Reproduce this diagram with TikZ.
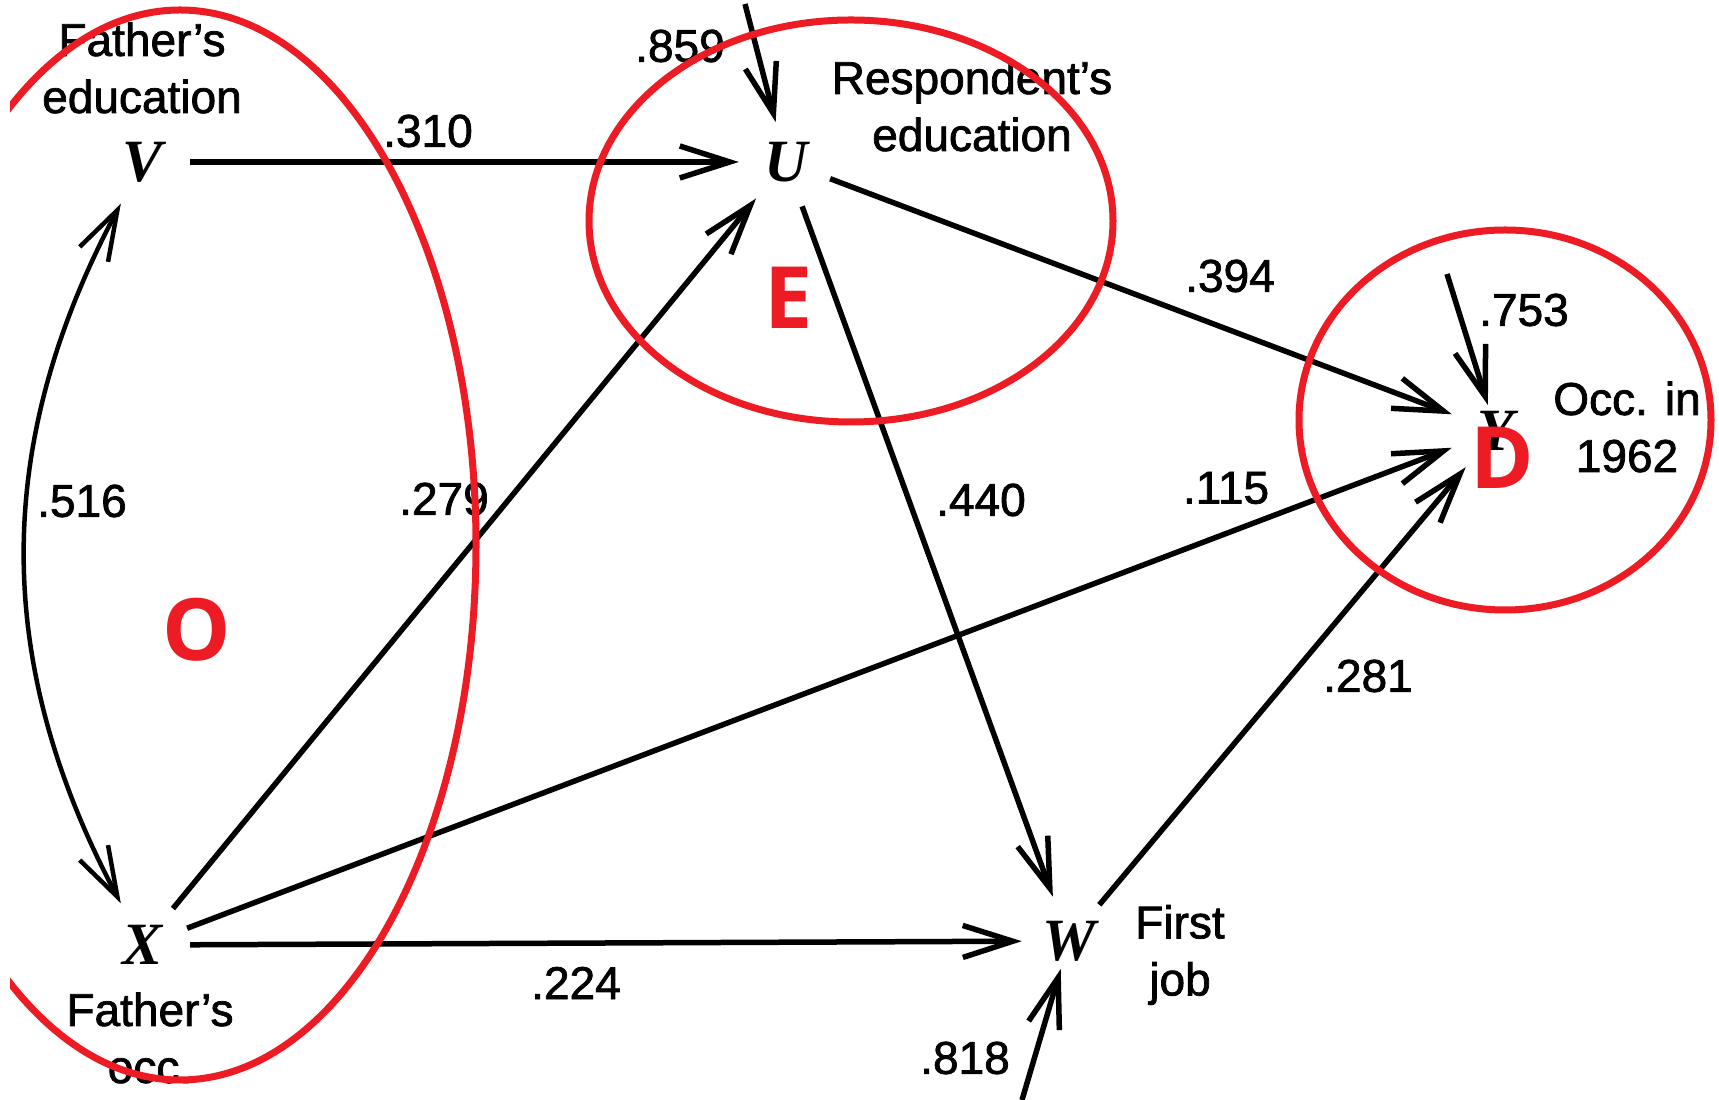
\documentclass[tikz,border=0pt]{standalone}
\usepackage{fontspec}
\setmainfont{Liberation Sans}
\newfontfamily\labfont{Liberation Sans}[FakeBold=1.6]
\newfontfamily\varfont{Liberation Serif}
\newfontfamily\redfont{Open Sans}
\usetikzlibrary{arrows.meta}
\definecolor{tred}{HTML}{ED1C24}
\begin{document}
\begin{tikzpicture}[x=1pt,y=1pt,
  lab/.style={font=\labfont\fontsize{46}{57}\selectfont, align=center, inner sep=0pt},
  var/.style={circle, minimum size=94pt, inner sep=0pt, font=\varfont\bfseries\itshape\fontsize{60}{60}\selectfont},
  barb/.tip={Straight Barb[length=50pt,width=32pt]},
  arr/.style={line width=5.5pt, -barb},
  redring/.style={draw=tred, line width=7pt},
  redlet/.style={text=tred, font=\redfont\bfseries\fontsize{86}{86}\selectfont, inner sep=0pt}]
\fill[white] (0,0) rectangle (1719,1100);
\useasboundingbox (0,0) rectangle (1719,1100);

% variables
\node[var] (V) at (143,938) {V};
\node[var] (U) at (786,938) {U};
\node[var] (Y) at (1496,669) {Y};
\node[var] (W) at (1069,159) {W};
\node[var] (X) at (143,155) {X};

% free ends of residual arrows
\coordinate (e859) at (745,1096);
\coordinate (e753) at (1447,826);
\coordinate (e818) at (1022,0);

% labels
\node[lab] (fedu) at (142,1032) {Father’s\\education};
\node[lab] (redu) at (972,994) {Respondent’s\\education};
\node[lab] (occ) at (1627,673) {Occ. in\\1962};
\node[lab] (fjob) at (1180,145) {First\\job};
\node[lab] (focc) at (150,62) {Father’s\\occ.};

\node[lab] (l310) at (428,969) {.310};
\node[lab] (l859) at (680,1054) {.859};
\node[lab] (l394) at (1230,824) {.394};
\node[lab] (l753) at (1524,790) {.753};
\node[lab] (l516) at (82,599) {.516};
\node[lab] (l279) at (444,601) {.279};
\node[lab] (l440) at (981,600) {.440};
\node[lab] (l115) at (1226,612) {.115};
\node[lab] (l281) at (1368,424) {.281};
\node[lab] (l224) at (576,117) {.224};
\node[lab] (l818) at (965,42) {.818};

% connectors
\draw[arr] (V) -- (U);
\draw[arr] (U) -- (Y);
\draw[arr] (X) -- (U);
\draw[arr] (U) -- (W);
\draw[arr] (X) -- (Y);
\draw[arr] (X) -- (W);
\draw[arr] (W) -- (Y);
\draw[arr, shorten >=-6pt] (e859) -- (U);
\draw[arr, shorten >=-20pt] (e753) -- (Y);
\draw[arr, shorten >=-18pt] (e818) -- (W);
\draw[line width=4.5pt, barb-barb] (V) to[out=242,in=118] (X);

% red annotations
\begin{scope}
\clip (10,0) rectangle (1719,1100);
\draw[redring] (180,555) ellipse[x radius=296pt, y radius=535pt];
\end{scope}
\draw[redring] (851,879) ellipse[x radius=262pt, y radius=201pt];
\draw[redring] (1505,680) ellipse[x radius=206pt, y radius=190pt];
\node[redlet] (O) at (197,470) {O};
\node[redlet] (E) at (789,802) {E};
\node[redlet] (D) at (1502,642) {D};
\end{tikzpicture}
\end{document}
